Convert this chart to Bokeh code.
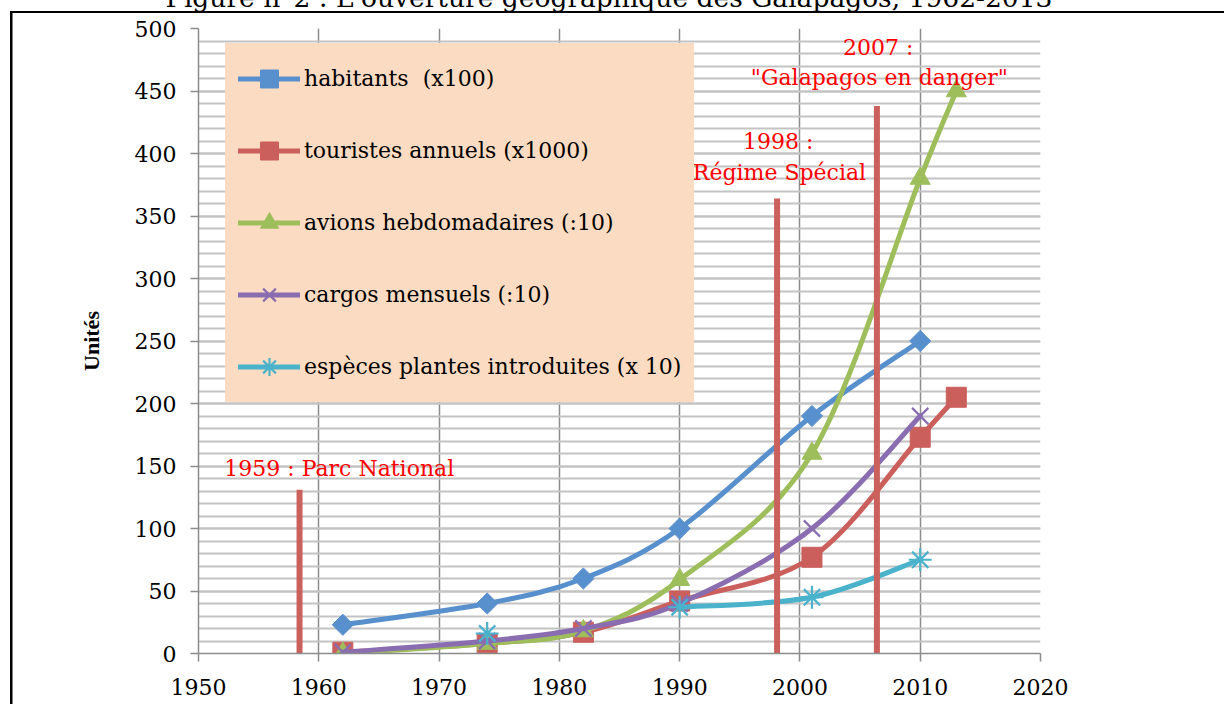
import numpy as np
from bokeh.plotting import figure
from bokeh.models import (Legend, LegendItem, SingleIntervalTicker, LabelSet,
                          ColumnDataSource)
from bokeh.core.properties import value
from bokeh.embed import file_html
from bokeh.resources import INLINE

# ---------------- data ----------------
years = [1962, 1974, 1982, 1990, 2001, 2010, 2013]
habitants = [23, 40, 60, 100, 190, 250, None]
touristes = [1, 8, 17, 42, 77, 173, 205]
avions = [0, 8, 18, 59, 160, 380, 450]
cargos = [1, 10, 20, 40, 100, 190, None]
especes = [None, 16, None, 37, 45, 75, None]

series_labels = ["habitants  (x100)", "touristes annuels (x1000)",
                 "avions hebdomadaires (:10)", "cargos mensuels (:10)",
                 "espèces plantes introduites (x 10)"]
series_values = [habitants, touristes, avions, cargos, especes]
series_colors = ["#5890CD", "#CB5F5B", "#9DBE5B", "#8A6DB0", "#4BB2CC"]
series_markers = ["square", "square", "triangle", "x", "asterisk"]
series_angles = [np.pi / 4, 0, 0, 0, 0]
series_sizes = [15, 20, 20, 23, 23]

event_years = [1958.4, 1998.1, 2006.4]
event_tops = [131, 364, 438]
event_bottom = -3

ann_text = ["1959 : Parc National", "1998 :", "Régime Spécial", "2007 :",
            "\"Galapagos en danger\""]
ann_x = [1961.7, 1998.2, 1998.3, 2006.5, 2006.6]
ann_y = [148, 410, 385, 485, 461]

title_text = "Figure n°2 : L'ouverture géographique des Galapagos, 1962-2013"

SERIF = "DejaVu Serif"


def smooth_runs(xs, ys):
    """Excel-like smoothed segments (cubic Bezier control points) for each run of values."""
    runs, cur = [], []
    for x, y in zip(xs, ys):
        if y is None:
            if cur:
                runs.append(cur)
            cur = []
        else:
            cur.append((x, y))
    if cur:
        runs.append(cur)
    out = {k: [] for k in ["x0", "y0", "x1", "y1", "cx0", "cy0", "cx1", "cy1"]}
    for run in runs:
        pts = np.array(run, dtype=float)
        n = len(pts)
        for i in range(n - 1):
            p0 = pts[max(i - 1, 0)]
            p1 = pts[i]
            p2 = pts[i + 1]
            p3 = pts[min(i + 2, n - 1)]
            c1 = p1 + (p2 - p0) / 6.0
            c2 = p2 - (p3 - p1) / 6.0
            out["x0"].append(p1[0]); out["y0"].append(p1[1])
            out["x1"].append(p2[0]); out["y1"].append(p2[1])
            out["cx0"].append(c1[0]); out["cy0"].append(c1[1])
            out["cx1"].append(c2[0]); out["cy1"].append(c2[1])
    return out


# canvas is 40px taller than the window and lifted by 40px, so that only the
# lower part of the page title is in view, as in the original
p = figure(width=1224, height=744, x_range=(1950, 2020), y_range=(0, 500),
           output_backend="svg", toolbar_location=None,
           min_border_left=198, min_border_right=184,
           min_border_top=68, min_border_bottom=51)
p.margin = (-40, 0, 0, 0)
# black frame of the page: only its left and top edges are in view
p.styles = {"background-color": "white",
            "box-shadow": ("inset 10px 51px 0 0 white, "
                           "inset 12.5px 53px 0 0 black, "
                           "0 0 0 120px white")}
p.background_fill_color = "white"
p.border_fill_color = None
p.outline_line_color = None

# page title
p.title.text = title_text
p.title.align = "left"
p.title.offset = -33
p.title.standoff = 31
p.title.vertical_align = "bottom"
p.title.text_font = SERIF
p.title.text_font_style = "normal"
p.title.text_font_size = "26.5px"
p.title.text_color = "black"

# axes
p.xaxis.ticker = SingleIntervalTicker(interval=10, num_minor_ticks=0)
p.yaxis.ticker = SingleIntervalTicker(interval=50, num_minor_ticks=5)
for ax in (p.xaxis[0], p.yaxis[0]):
    ax.axis_line_color = "#8C8C8C"
    ax.axis_line_width = 1.5
    ax.major_tick_line_color = "#8C8C8C"
    ax.major_tick_line_width = 1.5
    ax.major_tick_out = 8
    ax.major_tick_in = 0
    ax.minor_tick_out = 0
    ax.minor_tick_in = 0
    ax.major_label_text_font = SERIF
    ax.major_label_text_font_size = "22px"
    ax.major_label_text_color = "black"
p.xaxis.major_label_standoff = 17
p.yaxis.major_label_standoff = 14
p.yaxis.axis_label = "Unités"
p.yaxis.axis_label_text_font = "Liberation Serif"
p.yaxis.axis_label_text_font_style = "bold"
p.yaxis.axis_label_text_font_size = "22px"
p.yaxis.axis_label_text_color = "black"
p.yaxis.axis_label_standoff = 28

# grids
p.xgrid.grid_line_color = "#8C8C8C"
p.xgrid.grid_line_width = 1.5
p.ygrid.grid_line_color = "#C3C3C3"
p.ygrid.grid_line_width = 2
p.ygrid.minor_grid_line_color = "#C3C3C3"
p.ygrid.minor_grid_line_width = 2

# series
legend_items = []
for label, vals, color, marker, ang, sz in zip(series_labels, series_values,
                                               series_colors, series_markers,
                                               series_angles, series_sizes):
    seg = ColumnDataSource(smooth_runs(years, vals))
    bez = p.bezier(x0="x0", y0="y0", x1="x1", y1="y1", cx0="cx0", cy0="cy0",
                   cx1="cx1", cy1="cy1", source=seg, line_color=color,
                   line_width=5, line_cap="round")
    px = [x for x, v in zip(years, vals) if v is not None]
    py = [v for v in vals if v is not None]
    pts = ColumnDataSource(dict(x=px, y=py))
    if marker in ("x", "asterisk"):
        sc = p.scatter("x", "y", source=pts, marker=marker, size=sz,
                       line_color=color, line_width=2.2)
    else:
        sc = p.scatter("x", "y", source=pts, marker=marker, size=sz, angle=ang,
                       fill_color=color, line_color=color, line_width=1)
    legend_items.append(LegendItem(label=label, renderers=[bez, sc], index=0))

# event bars
ev = ColumnDataSource(dict(x=event_years, top=event_tops,
                           bottom=[event_bottom] * len(event_years)))
p.segment(x0="x", y0="bottom", x1="x", y1="top", source=ev,
          line_color="#CB615D", line_width=6)

legend = Legend(items=legend_items, location=(27, 251), level="glyph",
                background_fill_color="#FBDCC2", background_fill_alpha=1,
                border_line_color="#FBDCC2", border_line_width=1,
                padding=12, spacing=27,
                glyph_width=62, glyph_height=45, label_height=45,
                label_standoff=4, margin=0,
                label_text_font=SERIF, label_text_font_size="22px",
                label_text_color="black", label_text_baseline="middle")
p.add_layout(legend, "center")

# red event annotations
ann_src = ColumnDataSource(dict(x=ann_x, y=ann_y, text=ann_text))
p.add_layout(LabelSet(x="x", y="y", text="text", source=ann_src, level="overlay",
                      text_color="#FF0000", text_font=value(SERIF),
                      text_font_size="22px", text_align="center",
                      text_baseline="middle"))

open("out.html", "w").write(file_html(p, INLINE))
